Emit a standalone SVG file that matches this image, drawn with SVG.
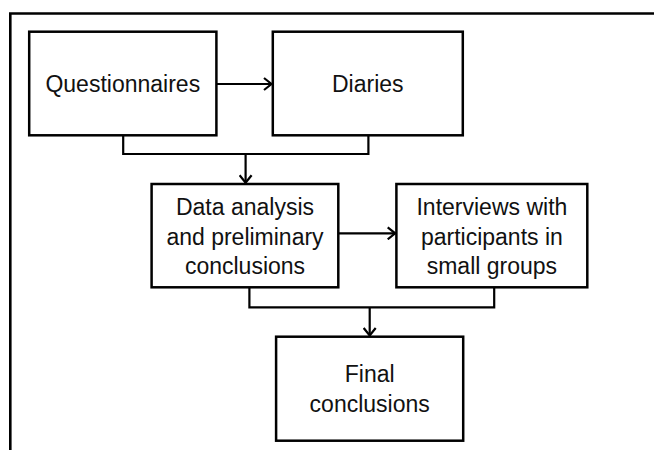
<svg xmlns="http://www.w3.org/2000/svg" width="655" height="450" viewBox="0 0 655 450">
  <style>
    .box { fill: #ffffff; stroke: #000000; stroke-width: 2.5; }
    .lbl { font-family: "Liberation Sans", Arial, sans-serif; font-size: 23px; fill: #111111; text-anchor: middle; }
    .con { fill: none; stroke: #000000; stroke-width: 2.2; }
    .frame { fill: none; stroke: #000000; stroke-width: 2.6; }
  </style>
  <defs>
    <marker id="arr" markerUnits="userSpaceOnUse" markerWidth="14" markerHeight="14" viewBox="-10 -7 12 14" refX="0" refY="0" orient="auto">
      <path d="M -7.5 -6 L 0 0 L -7.5 6" fill="none" stroke="#000000" stroke-width="2.2" stroke-linejoin="miter"/>
    </marker>
  </defs>
  <rect width="655" height="450" fill="#ffffff"/>
  <path class="frame" d="M 10.3 450 L 10.3 13.5 L 654 13.5"/>

  <g id="connectors">
    <line class="con" x1="216.4" y1="84" x2="271.5" y2="84" marker-end="url(#arr)"/>
    <path class="con" d="M 123.2 135.3 L 123.2 154 L 368.4 154 L 368.4 135.3"/>
    <line class="con" x1="245.6" y1="154" x2="245.6" y2="182.8" marker-end="url(#arr)"/>
    <line class="con" x1="338.3" y1="233.3" x2="395.2" y2="233.3" marker-end="url(#arr)"/>
    <path class="con" d="M 249.4 287.3 L 249.4 307.3 L 494.2 307.3 L 494.2 287.3"/>
    <line class="con" x1="369.7" y1="307.3" x2="369.7" y2="335.5" marker-end="url(#arr)"/>
  </g>

  <g id="questionnaires">
    <rect class="box" x="29.2" y="31.7" width="187.2" height="103.6"/>
    <text class="lbl" x="122.8" y="91.7">Questionnaires</text>
  </g>
  <g id="diaries">
    <rect class="box" x="272.8" y="31.7" width="190" height="103.6"/>
    <text class="lbl" x="367.8" y="91.7">Diaries</text>
  </g>
  <g id="data-analysis">
    <rect class="box" x="151.6" y="184" width="186.7" height="103.3"/>
    <text class="lbl" x="245" y="215">Data analysis</text>
    <text class="lbl" x="245" y="244.7">and preliminary</text>
    <text class="lbl" x="245" y="274.2">conclusions</text>
  </g>
  <g id="interviews">
    <rect class="box" x="396.4" y="184" width="190.9" height="103.3"/>
    <text class="lbl" x="491.9" y="215">Interviews with</text>
    <text class="lbl" x="491.9" y="244.7">participants in</text>
    <text class="lbl" x="491.9" y="274.2">small groups</text>
  </g>
  <g id="final-conclusions">
    <rect class="box" x="276.1" y="336.7" width="187.1" height="104"/>
    <text class="lbl" x="369.7" y="381.8">Final</text>
    <text class="lbl" x="369.7" y="411.5">conclusions</text>
  </g>
</svg>
